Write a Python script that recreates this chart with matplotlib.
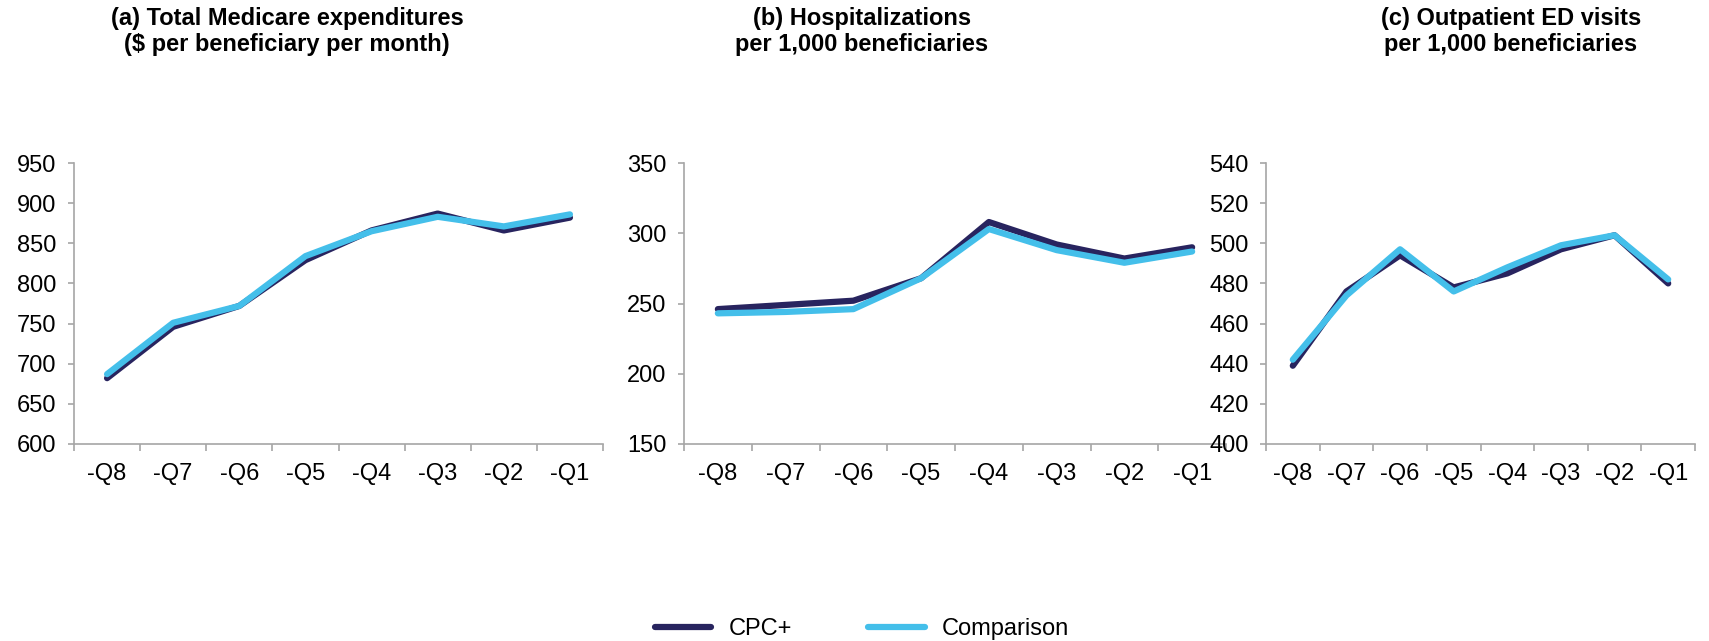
import numpy as np
import matplotlib.pyplot as plt
from matplotlib.lines import Line2D

plt.rcParams['font.family'] = ['Liberation Sans', 'DejaVu Sans']

# data
quarters = ['-Q8', '-Q7', '-Q6', '-Q5', '-Q4', '-Q3', '-Q2', '-Q1']
titles = ['(a) Total Medicare expenditures\n($ per beneficiary per month)',
          '(b) Hospitalizations\nper 1,000 beneficiaries',
          '(c) Outpatient ED visits\nper 1,000 beneficiaries']
exp_cpc = [682, 746, 772, 829, 866, 887, 866, 882]
exp_comp = [687, 751, 772, 834, 865, 883, 871, 886]
hosp_cpc = [246, 249, 252, 268, 308, 292, 282, 290]
hosp_comp = [243, 244, 246, 268, 303, 288, 279, 287]
ed_cpc = [439, 476, 494, 478, 485, 497, 504, 480]
ed_comp = [442, 474, 497, 476, 488, 499, 504, 482]

series = [(exp_cpc, exp_comp), (hosp_cpc, hosp_comp), (ed_cpc, ed_comp)]
ylims = [(600, 950, 50), (150, 350, 50), (400, 540, 20)]

navy = '#28245F'
light = '#44BFEA'
grey = '#A6A6A6'

fig = plt.figure(figsize=(17.09, 6.41), dpi=100)
W, H = 1709, 641
# axes boxes in pixels (left, right), shared top/bottom
boxes = [(74, 603), (684, 1226), (1266, 1695)]
top, bottom = 163, 444
title_x = [287, 862, 1511]

x = np.arange(len(quarters))
for i, ((l, r), (cpc, comp), (lo, hi, st)) in enumerate(zip(boxes, series, ylims)):
    ax = fig.add_axes([l / W, 1 - bottom / H, (r - l) / W, (bottom - top) / H])
    ax.plot(x, cpc, color=navy, lw=4.5, solid_capstyle='round', zorder=3)
    ax.plot(x, comp, color=light, lw=4.5, solid_capstyle='round', zorder=4)
    ax.set_xlim(-0.5, len(quarters) - 0.5)
    ax.set_ylim(lo, hi)
    ax.set_yticks(np.arange(lo, hi + 1, st))
    # tick marks between categories, labels at centres
    ax.set_xticks(np.arange(-0.5, len(quarters)), labels=[''] * (len(quarters) + 1))
    ax.set_xticks(x, labels=quarters, minor=True)
    ax.tick_params(axis='x', which='major', length=5, color=grey, width=1.2)
    ax.tick_params(axis='x', which='minor', length=0, labelsize=17, pad=14)
    ax.tick_params(axis='y', length=4.5, color=grey, width=1.2, labelsize=17, pad=8)
    for s in ['top', 'right']:
        ax.spines[s].set_visible(False)
    for s in ['left', 'bottom']:
        ax.spines[s].set_color(grey)
        ax.spines[s].set_linewidth(1.2)
    fig.text(title_x[i] / W, 1 - 7 / H, titles[i], ha='center', va='top', fontsize=17,
             fontweight='bold', linespacing=1.15)

handles = [Line2D([0], [0], color=navy, lw=4.5, solid_capstyle='round'),
           Line2D([0], [0], color=light, lw=4.5, solid_capstyle='round')]
fig.legend(handles, ['CPC+', 'Comparison'], loc='center', bbox_to_anchor=(862 / W, 1 - 629 / H),
           ncol=2, frameon=False, fontsize=17, handlelength=2.4, columnspacing=3.2,
           handletextpad=0.75, borderpad=0, borderaxespad=0)

fig.savefig('out.png', dpi=100)
